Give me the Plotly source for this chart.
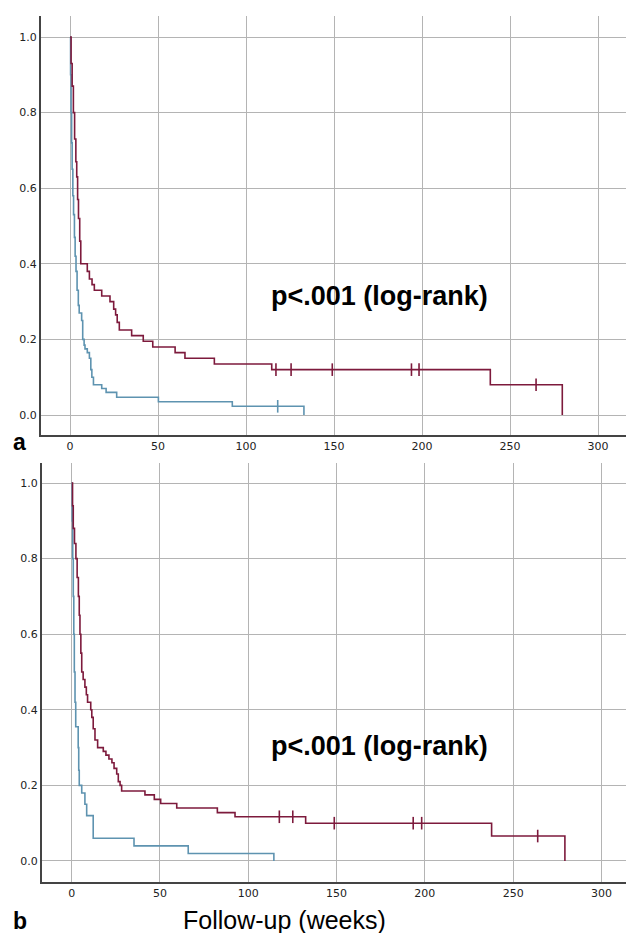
import plotly.graph_objects as go

# ---------- data (weeks, survival proportion) ----------
a_red_t = [0, 0.6, 1.2, 1.9, 2.6, 3.3, 3.8, 4.3, 4.8, 5.5, 6.1, 9.8, 11.0, 12.5, 13.8, 18.0,
           22.7, 24.8, 25.9, 26.8, 28.0, 35.0, 41.6, 47.0, 59.7, 65.3, 82.0, 114.6, 238.8, 279.7]
a_red_s = [1.0, 0.93, 0.87, 0.80, 0.73, 0.67, 0.63, 0.57, 0.52, 0.46, 0.40, 0.38, 0.36, 0.345, 0.33, 0.315,
           0.30, 0.28, 0.265, 0.245, 0.225, 0.21, 0.195, 0.18, 0.165, 0.15, 0.135, 0.12, 0.08, 0.0]
a_red_cens_t = [117.0, 125.6, 149.0, 194.0, 198.3, 264.8]
a_red_cens_s = [0.12, 0.12, 0.12, 0.12, 0.12, 0.08]

a_blue_t = [0, 0.3, 0.6, 0.9, 1.2, 1.6, 2.0, 2.5, 2.9, 3.4, 4.0, 4.7, 5.2, 6.6, 7.2, 8.0, 8.5,
            9.8, 11.0, 11.8, 12.4, 13.3, 18.0, 20.5, 26.5, 50.2, 92.2, 132.9]
a_blue_s = [1.0, 0.90, 0.80, 0.72, 0.65, 0.58, 0.53, 0.47, 0.42, 0.38, 0.33, 0.29, 0.27, 0.25, 0.20, 0.185, 0.175,
            0.165, 0.15, 0.12, 0.10, 0.08, 0.07, 0.06, 0.047, 0.035, 0.023, 0.0]
a_blue_cens_t = [118.0]
a_blue_cens_s = [0.023]

b_red_t = [0, 0.5, 0.9, 1.6, 2.4, 3.1, 3.8, 4.3, 4.7, 5.2, 5.7, 6.5, 7.5, 8.3, 9.0, 10.8, 11.4, 12.2,
           13.2, 14.7, 17.9, 19.4, 21.1, 22.8, 24.0, 25.5, 26.4, 27.4, 28.3, 41.5, 46.8, 50.4, 59.5,
           82.5, 92.5, 132.5, 237.8, 279.3]
b_red_s = [1.0, 0.94, 0.88, 0.84, 0.80, 0.75, 0.70, 0.65, 0.60, 0.55, 0.50, 0.48, 0.46, 0.44, 0.42, 0.40, 0.38, 0.35,
           0.32, 0.30, 0.29, 0.28, 0.27, 0.26, 0.245, 0.23, 0.21, 0.20, 0.185, 0.175, 0.163, 0.152, 0.14,
           0.128, 0.117, 0.10, 0.066, 0.0]
b_red_cens_t = [117.6, 125.2, 148.7, 193.4, 198.2, 263.9]
b_red_cens_s = [0.117, 0.117, 0.10, 0.10, 0.10, 0.066]

b_blue_t = [0, 0.3, 0.6, 0.9, 1.2, 1.5, 1.9, 2.3, 3.7, 4.0, 4.3, 5.7, 7.5, 8.5, 12.2, 35.3, 66.0, 114.5]
b_blue_s = [1.0, 0.90, 0.80, 0.70, 0.60, 0.50, 0.42, 0.355, 0.30, 0.24, 0.20, 0.18, 0.15, 0.12, 0.06, 0.04, 0.02, 0.0]

x_ticks = [0, 50, 100, 150, 200, 250, 300]
y_ticks = [0.0, 0.2, 0.4, 0.6, 0.8, 1.0]
y_tick_labels = ["0.0", "0.2", "0.4", "0.6", "0.8", "1.0"]

annot_text = "p<.001 (log-rank)"
x_title = "Follow-up (weeks)"
panel_labels = ["a", "b"]

RED = "#7d1a3c"
BLUE = "#5e93b0"

fig = go.Figure()

def add_curve(t, s, color, xa, ya):
    fig.add_trace(go.Scatter(x=t, y=s, mode="lines", line=dict(color=color, width=1.6, shape="hv"),
                             xaxis=xa, yaxis=ya, showlegend=False, hoverinfo="skip"))

def add_cens(t, s, color, xa, ya):
    fig.add_trace(go.Scatter(x=t, y=s, mode="markers",
                             marker=dict(symbol="line-ns", size=9, line=dict(color=color, width=1.6)),
                             xaxis=xa, yaxis=ya, showlegend=False, hoverinfo="skip"))

add_curve(a_blue_t, a_blue_s, BLUE, "x", "y")
add_curve(a_red_t, a_red_s, RED, "x", "y")
add_cens(a_blue_cens_t, a_blue_cens_s, BLUE, "x", "y")
add_cens(a_red_cens_t, a_red_cens_s, RED, "x", "y")

add_curve(b_blue_t, b_blue_s, BLUE, "x2", "y2")
add_curve(b_red_t, b_red_s, RED, "x2", "y2")
add_cens(b_red_cens_t, b_red_cens_s, RED, "x2", "y2")

W, H = 626, 933
TICKFONT = dict(family="DejaVu Sans", size=11, color="#222222")

def xax(domain, rng, anchor):
    return dict(domain=domain, range=rng, anchor=anchor, tickvals=x_ticks,
                showgrid=True, gridcolor="#b4b4b4", gridwidth=1.4, zeroline=False,
                showline=True, linecolor="#444444", linewidth=2, mirror=False,
                ticks="", tickfont=TICKFONT)

def yax(domain, rng, anchor):
    return dict(domain=domain, range=rng, anchor=anchor, tickvals=y_ticks, ticktext=y_tick_labels,
                showgrid=True, gridcolor="#b4b4b4", gridwidth=1.4, zeroline=False,
                showline=True, linecolor="#444444", linewidth=2, mirror=False,
                ticks="", tickfont=TICKFONT)

fig.update_layout(
    width=W, height=H,
    margin=dict(l=0, r=0, t=0, b=0),
    paper_bgcolor="white", plot_bgcolor="white",
    xaxis=xax([41 / W, 1.0], [-16.5, 315.9], "y"),
    yaxis=yax([1 - 435 / H, 1 - 16 / H], [-0.0529, 1.0556], "x"),
    xaxis2=xax([42 / W, 1.0], [-16.8, 313.9], "y2"),
    yaxis2=yax([1 - 882 / H, 1 - 463 / H], [-0.0556, 1.053], "x2"),
    showlegend=False,
)

annots = [
    dict(text="<b>%s</b>" % annot_text, x=379 / W, y=1 - 296 / H, font=dict(family="Liberation Sans", size=27, color="black")),
    dict(text="<b>%s</b>" % annot_text, x=379 / W, y=1 - 746 / H, font=dict(family="Liberation Sans", size=27, color="black")),
    dict(text=x_title, x=284 / W, y=1 - 920 / H, font=dict(family="Liberation Sans", size=25, color="black")),
    dict(text="<b>%s</b>" % panel_labels[0], x=19.5 / W, y=1 - 442 / H, font=dict(family="Liberation Sans", size=23, color="black")),
    dict(text="<b>%s</b>" % panel_labels[1], x=19.5 / W, y=1 - 921 / H, font=dict(family="Liberation Sans", size=23, color="black")),
]
for a in annots:
    fig.add_annotation(xref="paper", yref="paper", showarrow=False, xanchor="center", yanchor="middle", **a)

fig.write_html("out.html", config={"displayModeBar": False},
               post_script="document.body.style.margin='0px';document.body.style.overflow='hidden';")
